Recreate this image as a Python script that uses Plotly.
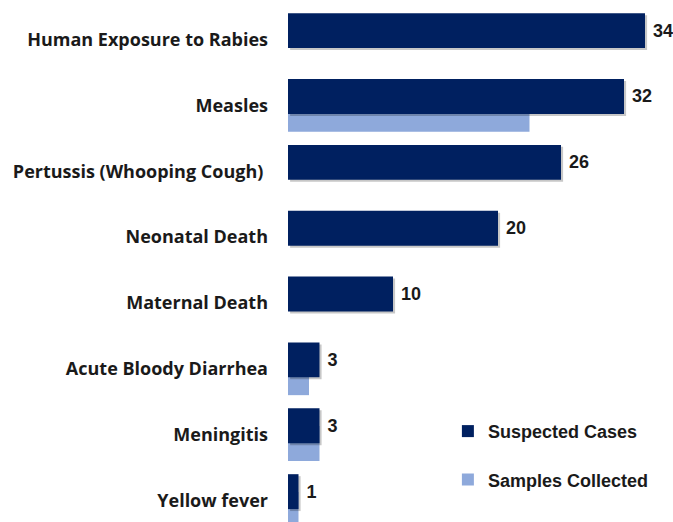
import plotly.graph_objects as go

categories = ["Human Exposure to Rabies", "Measles", "Pertussis (Whooping Cough) ",
              "Neonatal Death", "Maternal Death", "Acute Bloody Diarrhea",
              "Meningitis", "Yellow fever"]
suspected = [34, 32, 26, 20, 10, 3, 3, 1]
samples = [0, 23, 0, 0, 0, 2, 3, 1]

DARK = "#002060"
LIGHT = "#8EA9DB"
idx = list(range(len(categories)))

fig = go.Figure()
fig.add_trace(go.Bar(
    y=idx, x=samples, orientation="h", name="<b>Samples Collected</b>",
    marker=dict(color=LIGHT, line=dict(width=0)),
    width=0.53, offset=-0.13, legendgroup="b", legendrank=2,
    hoverinfo="x"))
# soft drop shadow of the dark bars
fig.add_trace(go.Bar(
    y=idx, x=suspected, base=0.2, orientation="h", showlegend=False,
    marker=dict(color="rgba(0,0,0,0.22)", line=dict(width=0)),
    width=0.53, offset=-0.37, hoverinfo="skip"))
fig.add_trace(go.Bar(
    y=idx, x=suspected, orientation="h", name="<b>Suspected Cases</b>",
    marker=dict(color=DARK, line=dict(width=0)),
    width=0.53, offset=-0.40, legendgroup="a", legendrank=1,
    text=[f"<b> {v}</b>" for v in suspected], textposition="outside",
    constraintext="none",
    textfont=dict(family="Liberation Sans", size=18, color="#1a1a1a"),
    cliponaxis=False, hoverinfo="x"))

fig.update_layout(
    width=673, height=522,
    margin=dict(l=288, r=7, t=0, b=0, autoexpand=False),
    barmode="overlay",
    plot_bgcolor="white", paper_bgcolor="white",
    showlegend=True,
    legend=dict(x=0.423, y=0.209, xanchor="left", yanchor="top",
                traceorder="grouped", tracegroupgap=22,
                font=dict(family="Liberation Sans", size=18, color="#1a1a1a"),
                bgcolor="rgba(0,0,0,0)"),
    xaxis=dict(range=[0, 36], visible=False, automargin=False),
    yaxis=dict(range=[7.326, -0.6], tickmode="array", tickvals=idx,
               ticktext=[f"<b>{c}</b>" for c in categories],
               tickfont=dict(family="Open Sans", size=18, color="#1a1a1a"),
               showgrid=False, zeroline=False, showline=False, ticks="",
               ticklabelstandoff=19, automargin=False),
)
fig.write_html("out.html", config={"displayModeBar": False},
               post_script="document.body.style.margin='0px';")
